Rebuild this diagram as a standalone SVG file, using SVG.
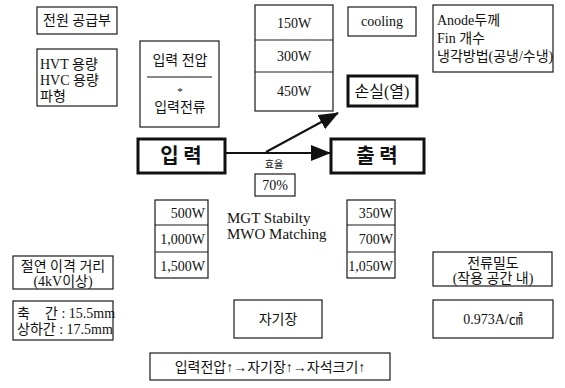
<svg xmlns="http://www.w3.org/2000/svg" width="565" height="388" viewBox="0 0 565 388">
<style>
.b{fill:#fff;stroke:#1a1a1a;stroke-width:1.2}
.bt{fill:#fff;stroke:#111;stroke-width:3}
.t{font-family:"Liberation Serif","Noto Sans CJK KR",serif;font-size:14px;fill:#111}
.c{text-anchor:middle}
.r{text-anchor:end}
.big{font-family:"Noto Sans CJK KR","Liberation Sans",sans-serif;font-size:20px;font-weight:bold;fill:#111;text-anchor:middle}
.ln{stroke:#111;stroke-width:2;fill:none}
</style>
<defs>
<marker id="ah" markerUnits="userSpaceOnUse" markerWidth="20" markerHeight="16" refX="19" refY="8" orient="auto">
<path d="M0,0 L20,8 L0,16 Z" fill="#111"/>
</marker>
</defs>
<g id="power"><rect class="b" x="37" y="7" width="80" height="27"/><text class="t c" x="77" y="25">전원 공급부</text></g>
<g id="hv"><rect class="b" x="37" y="49" width="80" height="57"/>
<text class="t" x="40" y="69">HVT 용량</text><text class="t" x="40" y="85">HVC 용량</text><text class="t" x="40" y="101">파형</text></g>
<g id="inputvi"><rect class="b" x="140" y="41" width="79" height="86"/>
<text class="t c" x="180" y="65">입력 전압</text>
<line x1="147" y1="77" x2="212" y2="77" stroke="#111" stroke-width="1.2"/>
<text class="t c" x="180" y="95" style="font-size:11px">*</text>
<text class="t c" x="180" y="112">입력전류</text></g>
<g id="loss-w"><rect class="b" x="255" y="5" width="78" height="106"/>
<line x1="255" y1="40" x2="333" y2="40" stroke="#1a1a1a"/><line x1="255" y1="72" x2="333" y2="72" stroke="#1a1a1a"/>
<text class="t c" x="294" y="28">150W</text><text class="t c" x="294" y="61">300W</text><text class="t c" x="294" y="96">450W</text></g>
<g id="cooling"><rect class="b" x="348" y="7" width="68" height="29"/><text class="t c" x="382" y="26">cooling</text></g>
<g id="anode"><rect class="b" x="433" y="5" width="120" height="67"/>
<text class="t" x="437" y="25">Anode두께</text><text class="t" x="437" y="43">Fin 개수</text><text class="t" x="437" y="61">냉각방법(공냉/수냉)</text></g>
<g id="loss"><rect class="bt" x="348" y="76" width="69" height="30"/><text class="t c" x="382" y="97" style="font-size:16px">손실(열)</text></g>
<g id="connectors">
<line class="ln" x1="225" y1="153" x2="330" y2="153" marker-end="url(#ah)"/>
<line class="ln" x1="266" y1="152" x2="338" y2="113" marker-end="url(#ah)"/>
</g>
<g id="input"><rect class="bt" x="138" y="139" width="87" height="34"/><text class="big" x="181" y="163">입 력</text></g>
<g id="output"><rect class="bt" x="331" y="139" width="93" height="34"/><text class="big" x="377" y="163">출 력</text></g>
<g id="eff"><text class="t c" x="274" y="168" style="font-size:10px">효율</text>
<rect class="b" x="255" y="174" width="40" height="22"/><text class="t c" x="275" y="190">70%</text></g>
<g id="in-w"><rect class="b" x="155" y="200" width="53" height="78"/>
<line x1="155" y1="225" x2="208" y2="225" stroke="#1a1a1a"/><line x1="155" y1="252" x2="208" y2="252" stroke="#1a1a1a"/>
<text class="t r" x="205" y="218">500W</text><text class="t r" x="205" y="244">1,000W</text><text class="t r" x="205" y="271">1,500W</text></g>
<g id="mgt"><text class="t" x="227" y="223" style="font-size:15px">MGT Stabilty</text><text class="t" x="227" y="239" style="font-size:15px">MWO Matching</text></g>
<g id="out-w"><rect class="b" x="347" y="200" width="48" height="78"/>
<line x1="347" y1="225" x2="395" y2="225" stroke="#1a1a1a"/><line x1="347" y1="252" x2="395" y2="252" stroke="#1a1a1a"/>
<text class="t r" x="393" y="218">350W</text><text class="t r" x="393" y="244">700W</text><text class="t r" x="393" y="271">1,050W</text></g>
<g id="insul"><rect class="b" x="13" y="256" width="100" height="33"/>
<text class="t c" x="63" y="271">절연 이격 거리</text><text class="t c" x="63" y="286">(4kV이상)</text></g>
<g id="density"><rect class="b" x="433" y="252" width="119" height="34"/>
<text class="t c" x="493" y="268">전류밀도</text><text class="t c" x="493" y="283">(작용 공간 내)</text></g>
<g id="gap"><rect class="b" x="13" y="301" width="100" height="39"/>
<text class="t" y="318"><tspan x="17">축</tspan><tspan x="45">간 : 15.5mm</tspan></text>
<text class="t" x="17" y="334">상하간 : 17.5mm</text></g>
<g id="magfield"><rect class="b" x="234" y="300" width="88" height="38"/><text class="t c" x="278" y="324">자기장</text></g>
<g id="jval"><rect class="b" x="433" y="300" width="120" height="38"/><text class="t c" x="493" y="324">0.973A/㎠</text></g>
<g id="relation"><rect class="b" x="150" y="353" width="240" height="27"/><text class="t c" x="270" y="372">입력전압↑→자기장↑→자석크기↑</text></g>
</svg>
